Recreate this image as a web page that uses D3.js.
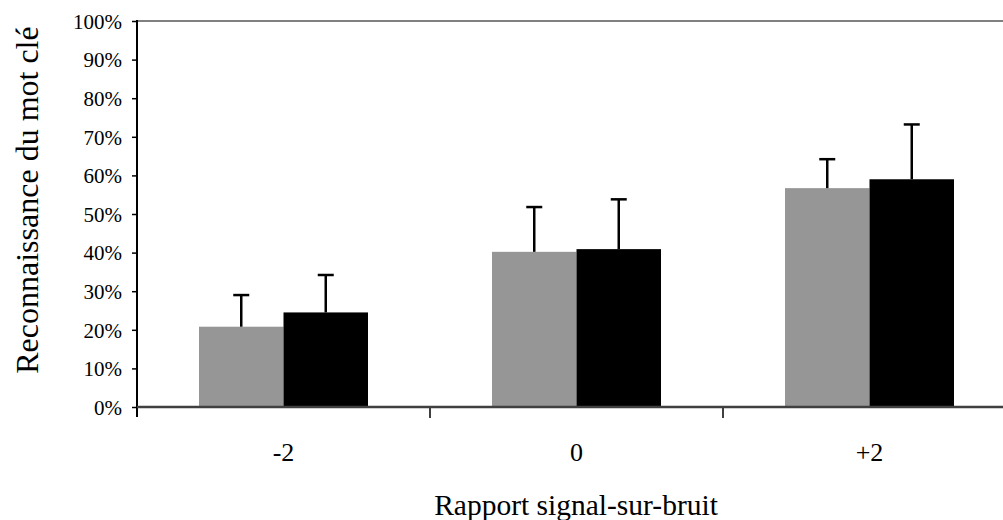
<!DOCTYPE html>
<html><head><meta charset="utf-8">
<script src="https://cdn.jsdelivr.net/npm/d3@7"></script>
<style>body{margin:0;background:#fff;}svg{display:block;}</style>
</head><body>
<svg id="c" width="1003" height="520"></svg>
<script>
const categories = ["-2", "0", "+2"];
const seriesNames = ["A", "B"];
const grayValues = [20.8, 40.2, 56.7];
const blackValues = [24.5, 40.9, 59.0];
const grayErrors = [8.2, 11.6, 7.5];
const blackErrors = [9.7, 12.9, 14.2];
const yTicks = [0, 10, 20, 30, 40, 50, 60, 70, 80, 90, 100];

(function () {
const svg = d3.select("#c");
const mLeft = 137, mTop = 21, mBottom = 407, mRight = 1016;
const colors = ["#969696", "#000000"];
const FONT = "'Liberation Serif', 'Times New Roman', serif";

const x = d3.scaleBand().domain(categories).range([mLeft, mRight]).paddingInner(0).paddingOuter(0);
const y = d3.scaleLinear().domain([0, 100]).range([mBottom, mTop]);
const xs = d3.scaleBand().domain(seriesNames).range([62, x.bandwidth() - 62]).padding(0);

const data = categories.map((c, i) => ({
  c, vals: [
    {s: "A", v: grayValues[i], e: grayErrors[i], col: colors[0]},
    {s: "B", v: blackValues[i], e: blackErrors[i], col: colors[1]}
  ]
}));

svg.append("line").attr("x1", mLeft).attr("x2", 1003).attr("y1", mTop).attr("y2", mTop)
  .attr("stroke", "#808080").attr("stroke-width", 2);

const g = svg.append("g");
data.forEach(d => {
  d.vals.forEach(b => {
    const bx = x(d.c) + xs(b.s);
    g.append("rect").attr("x", bx).attr("y", y(b.v))
      .attr("width", xs.bandwidth()).attr("height", y(0) - y(b.v))
      .attr("fill", b.col);
  });
});
data.forEach(d => {
  d.vals.forEach(b => {
    const cx = x(d.c) + xs(b.s) + xs.bandwidth() / 2;
    g.append("line").attr("x1", cx).attr("x2", cx).attr("y1", y(b.v)).attr("y2", y(b.v + b.e))
      .attr("stroke", "#000").attr("stroke-width", 2.5);
    g.append("line").attr("x1", cx - 8).attr("x2", cx + 8).attr("y1", y(b.v + b.e)).attr("y2", y(b.v + b.e))
      .attr("stroke", "#000").attr("stroke-width", 2.5);
  });
});

const yAxis = d3.axisLeft(y).tickValues(yTicks).tickFormat(d => d + "%").tickSize(5).tickSizeOuter(0);
const ya = svg.append("g").attr("transform", `translate(${mLeft},0)`).call(yAxis);
ya.select(".domain").remove();
ya.selectAll(".tick line").attr("stroke", "#000").attr("stroke-width", 1.5);
ya.selectAll(".tick text").attr("font-family", FONT)
  .attr("font-size", 21).attr("fill", "#000").attr("x", -15).attr("dy", "0.35em");
svg.append("line").attr("x1", mLeft).attr("x2", mLeft).attr("y1", mTop - 1).attr("y2", mBottom + 10)
  .attr("stroke", "#000").attr("stroke-width", 2);

const xa = svg.append("g").attr("transform", `translate(0,${mBottom})`);
xa.append("line").attr("x1", mLeft).attr("x2", 1003).attr("y1", 0).attr("y2", 0)
  .attr("stroke", "#404040").attr("stroke-width", 2.5);
const bounds = categories.map(c => x(c)).slice(1);
xa.selectAll(".tk").data(bounds).enter().append("line")
  .attr("x1", d => d).attr("x2", d => d).attr("y1", 0).attr("y2", 11)
  .attr("stroke", "#404040").attr("stroke-width", 2);
xa.selectAll(".lb").data(categories).enter().append("text")
  .attr("x", d => x(d) + x.bandwidth() / 2).attr("y", 54)
  .attr("text-anchor", "middle").attr("font-family", FONT)
  .attr("font-size", 26).attr("fill", "#000").text(d => d);

svg.append("text").attr("x", 576).attr("y", 515).attr("text-anchor", "middle")
  .attr("font-family", FONT).attr("font-size", 29.5)
  .text("Rapport signal-sur-bruit");
svg.append("text").attr("transform", "translate(38,200) rotate(-90)").attr("text-anchor", "middle")
  .attr("font-family", FONT).attr("font-size", 32)
  .text("Reconnaissance du mot clé");
})();
</script>
</body></html>
